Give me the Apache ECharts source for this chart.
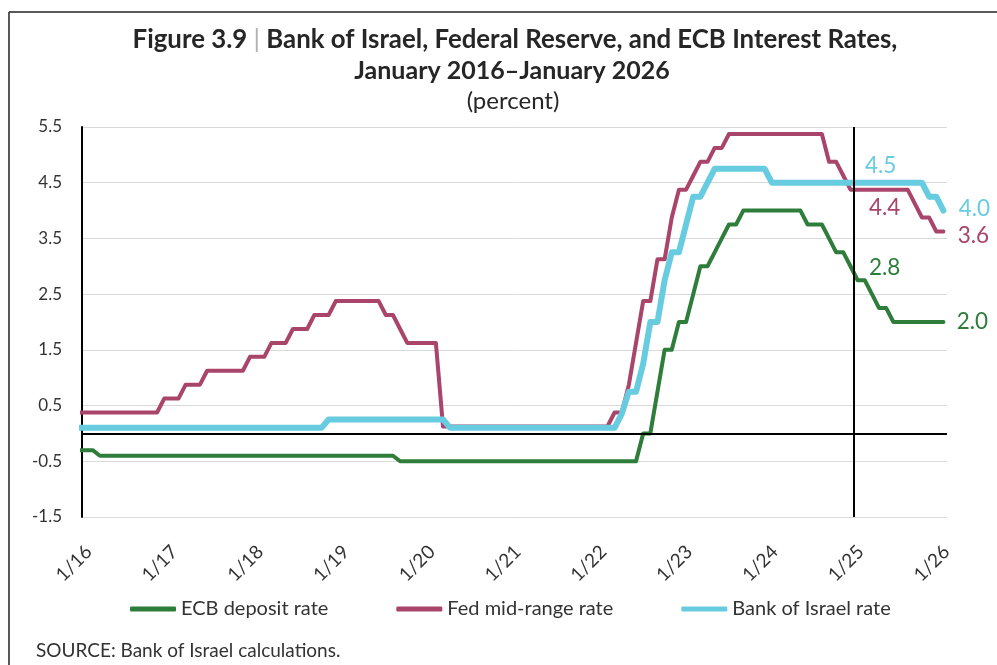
<!DOCTYPE html>
<html><head><meta charset="utf-8">
<script src="https://cdn.jsdelivr.net/npm/echarts@6/dist/echarts.min.js"></script>
<style>html,body{margin:0;padding:0;background:#fff}#c{width:997px;height:665px}</style>
</head><body><div id="c"></div>
<script>
// Months from Dec 2015 to Jan 2026 (end-of-month policy rates)
const months = [];
for (let y = 2015, m = 12; !(y === 2026 && m === 2); ) {
  months.push(y + '-' + String(m).padStart(2, '0'));
  m++; if (m > 12) { m = 1; y++; }
}
const xTickLabels = ['1/16','1/17','1/18','1/19','1/20','1/21','1/22','1/23','1/24','1/25','1/26'];

const ecb = [
  -0.3,
  -0.3,-0.3,-0.4,-0.4,-0.4,-0.4,-0.4,-0.4,-0.4,-0.4,-0.4,-0.4,
  -0.4,-0.4,-0.4,-0.4,-0.4,-0.4,-0.4,-0.4,-0.4,-0.4,-0.4,-0.4,
  -0.4,-0.4,-0.4,-0.4,-0.4,-0.4,-0.4,-0.4,-0.4,-0.4,-0.4,-0.4,
  -0.4,-0.4,-0.4,-0.4,-0.4,-0.4,-0.4,-0.4,-0.5,-0.5,-0.5,-0.5,
  -0.5,-0.5,-0.5,-0.5,-0.5,-0.5,-0.5,-0.5,-0.5,-0.5,-0.5,-0.5,
  -0.5,-0.5,-0.5,-0.5,-0.5,-0.5,-0.5,-0.5,-0.5,-0.5,-0.5,-0.5,
  -0.5,-0.5,-0.5,-0.5,-0.5,-0.5,0,0,0.75,1.5,1.5,2.0,
  2.0,2.5,3.0,3.0,3.25,3.5,3.75,3.75,4.0,4.0,4.0,4.0,
  4.0,4.0,4.0,4.0,4.0,3.75,3.75,3.75,3.5,3.25,3.25,3.0,
  2.75,2.75,2.5,2.25,2.25,2.0,2.0,2.0,2.0,2.0,2.0,2.0,
  2.0
];
const fed = [
  0.375,
  0.375,0.375,0.375,0.375,0.375,0.375,0.375,0.375,0.375,0.375,0.375,0.625,
  0.625,0.625,0.875,0.875,0.875,1.125,1.125,1.125,1.125,1.125,1.125,1.375,
  1.375,1.375,1.625,1.625,1.625,1.875,1.875,1.875,2.125,2.125,2.125,2.375,
  2.375,2.375,2.375,2.375,2.375,2.375,2.125,2.125,1.875,1.625,1.625,1.625,
  1.625,1.625,0.125,0.125,0.125,0.125,0.125,0.125,0.125,0.125,0.125,0.125,
  0.125,0.125,0.125,0.125,0.125,0.125,0.125,0.125,0.125,0.125,0.125,0.125,
  0.125,0.125,0.375,0.375,0.875,1.625,2.375,2.375,3.125,3.125,3.875,4.375,
  4.375,4.625,4.875,4.875,5.125,5.125,5.375,5.375,5.375,5.375,5.375,5.375,
  5.375,5.375,5.375,5.375,5.375,5.375,5.375,5.375,4.875,4.875,4.625,4.375,
  4.375,4.375,4.375,4.375,4.375,4.375,4.375,4.375,4.125,3.875,3.875,3.625,
  3.625
];
const boi = [
  0.1,
  0.1,0.1,0.1,0.1,0.1,0.1,0.1,0.1,0.1,0.1,0.1,0.1,
  0.1,0.1,0.1,0.1,0.1,0.1,0.1,0.1,0.1,0.1,0.1,0.1,
  0.1,0.1,0.1,0.1,0.1,0.1,0.1,0.1,0.1,0.1,0.25,0.25,
  0.25,0.25,0.25,0.25,0.25,0.25,0.25,0.25,0.25,0.25,0.25,0.25,
  0.25,0.25,0.25,0.1,0.1,0.1,0.1,0.1,0.1,0.1,0.1,0.1,
  0.1,0.1,0.1,0.1,0.1,0.1,0.1,0.1,0.1,0.1,0.1,0.1,
  0.1,0.1,0.1,0.35,0.75,0.75,1.25,2.0,2.0,2.75,3.25,3.25,
  3.75,4.25,4.25,4.5,4.75,4.75,4.75,4.75,4.75,4.75,4.75,4.75,
  4.5,4.5,4.5,4.5,4.5,4.5,4.5,4.5,4.5,4.5,4.5,4.5,
  4.5,4.5,4.5,4.5,4.5,4.5,4.5,4.5,4.5,4.5,4.25,4.25,
  4.0
];

const names = ['ECB deposit rate', 'Fed mid-range rate', 'Bank of Israel rate'];
const colors = ['#2E7D3A', '#A9446A', '#68CCE0'];
const widths = [4, 4, 6];
const FONT = 'Lato';
const TXT = '#333333';

// x position = middle of month, measured in months from Jan 2016
const xOf = k => k - 0.5;
const toData = arr => months.map((m, k) => [xOf(k), arr[k]]);
const k25 = months.indexOf('2025-01');
const kEnd = months.length - 1;

function mp(arr, k, color, off) {
  return {
    coord: [xOf(k), arr[k]], value: arr[k].toFixed(1),
    symbol: 'circle', symbolSize: 1, itemStyle: { color: 'rgba(0,0,0,0)' },
    label: { show: true, position: 'inside', offset: off, color: color,
      fontFamily: FONT, fontSize: 22.5, formatter: '{c}' }
  };
}

const series = [ecb, fed, boi].map((arr, i) => ({
  name: names[i], type: 'line', data: toData(arr), showSymbol: false,
  lineStyle: { color: colors[i], width: widths[i], cap: 'round', join: 'round' },
  itemStyle: { color: colors[i] }, z: 2 + i, animation: false
}));
series[0].markPoint = { data: [mp(ecb, k25, colors[0], [27, -12]), mp(ecb, kEnd, colors[0], [29, 0])] };
series[1].markPoint = { data: [mp(fed, k25, colors[1], [27, 18]), mp(fed, kEnd, colors[1], [30, 4])] };
series[2].markPoint = { data: [mp(boi, k25, colors[2], [23, -17]), mp(boi, kEnd, colors[2], [31, -2])] };
series[2].markLine = {
  silent: true, symbol: 'none', label: { show: false }, z: 10,
  lineStyle: { color: '#000', width: 2, type: 'solid' },
  data: [{ xAxis: 108 }, { yAxis: 0 }]
};

const chart = echarts.init(document.getElementById('c'), null, { renderer: 'canvas' });
chart.setOption({
  animation: false,
  backgroundColor: '#fff',
  textStyle: { fontFamily: FONT },
  grid: { left: 82, right: 50, top: 127, bottom: 148, containLabel: false },
  xAxis: {
    type: 'value', min: 0, max: 121, interval: 12,
    axisLine: { show: false }, axisTick: { show: false }, splitLine: { show: false },
    axisLabel: { rotate: 45, margin: 25, color: TXT, fontSize: 19, fontFamily: FONT,
      verticalAlign: 'top', showMaxLabel: false,
      formatter: v => xTickLabels[Math.round(v / 12)] || '' }
  },
  yAxis: {
    type: 'value', min: -1.5, max: 5.5, interval: 1,
    axisLine: { show: true, lineStyle: { color: '#000', width: 2 } },
    axisTick: { show: false },
    splitLine: { show: true, lineStyle: { color: '#d9d9d9', width: 1 } },
    axisLabel: { margin: 20, color: TXT, fontSize: 17, fontFamily: FONT,
      formatter: v => v.toFixed(1) }
  },
  legend: {
    left: 125, top: 594, itemWidth: 46, itemHeight: 5, itemGap: 68, icon: 'roundRect',
    textStyle: { color: TXT, fontSize: 20, fontFamily: FONT },
    data: names
  },
  graphic: [
    { type: 'line', shape: { x1: 9, y1: 12, x2: 997, y2: 12 }, style: { stroke: '#222', lineWidth: 1.5 }, silent: true },
    { type: 'line', shape: { x1: 9, y1: 12, x2: 9, y2: 665 }, style: { stroke: '#222', lineWidth: 1.5 }, silent: true },
    { type: 'text', x: 515, y: 40, style: {
        text: '{b|Figure 3.9 }{s||}{b| Bank of Israel, Federal Reserve, and ECB Interest Rates,}',
        align: 'center', verticalAlign: 'middle',
        rich: { b: { fontFamily: FONT, fontWeight: 'bold', fontSize: 25.8, fill: '#262626' },
                s: { fontFamily: FONT, fontSize: 25.8, fill: '#b0b0b0' } } } },
    { type: 'text', x: 512, y: 71, style: { text: 'January 2016–January 2026', align: 'center', verticalAlign: 'middle',
        fontFamily: FONT, fontWeight: 'bold', fontSize: 25, fill: '#262626' } },
    { type: 'text', x: 513, y: 101, style: { text: '(percent)', align: 'center', verticalAlign: 'middle',
        fontFamily: FONT, fontSize: 24, fill: '#262626' } },
    { type: 'text', x: 36, y: 651, style: { text: 'SOURCE: Bank of Israel calculations.', align: 'left', verticalAlign: 'middle',
        fontFamily: FONT, fontSize: 19, fill: TXT } }
  ],
  series: series
});
</script>
</body></html>
